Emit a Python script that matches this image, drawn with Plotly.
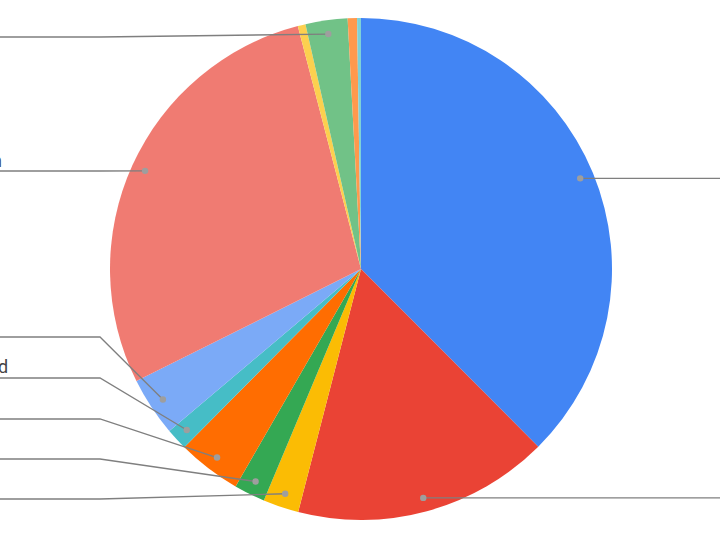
import math
import plotly.graph_objects as go

# ---- data (percentages of the whole) ----
categories = ["Slice 1", "Slice 2", "Slice 3", "Slice 4", "Slice 5", "Slice 6",
              "Slice 7", "Slice 8", "Slice 9", "Slice 10", "Slice 11", "Slice 12"]
values = [37.5, 16.5, 2.3, 2.0, 4.1, 1.4, 3.8, 28.3, 0.5, 2.7, 0.6, 0.25]
colors = ["#4285F4", "#EA4335", "#FBBC04", "#34A853", "#FF6D01", "#46BDC6",
          "#7BAAF7", "#F07B72", "#FCD04F", "#71C287", "#FF994D", "#7ED1D7"]

# ---- layout (pixels) ----
W, H = 720, 535
cx, cy, R = 361, 269, 251
dot_r = 0.945 * R
bend_x = 100
# index -> (side, label line y or None)
leaders = {0: ("right", None), 1: ("right", None),
           2: ("left", 499), 3: ("left", 459), 4: ("left", 419),
           5: ("left", 378), 6: ("left", 337), 7: ("left", 171), 9: ("left", 37)}
label_frags = [("n", 4, 160), ("d", 10, 366)]

fig = go.Figure()
fig.add_trace(go.Pie(
    labels=categories, values=values, sort=False, direction="clockwise",
    rotation=0, marker=dict(colors=colors, line=dict(width=0)),
    textinfo="none", hoverinfo="label+percent", showlegend=False,
    domain=dict(x=[(cx - R) / W, (cx + R) / W],
                y=[(H - cy - R) / H, (H - cy + R) / H]),
))
# invisible trace so the overlay axes exist
fig.add_trace(go.Scatter(x=[0], y=[0], mode="markers", marker=dict(opacity=0),
                         hoverinfo="skip", showlegend=False))

total = sum(values)
cum = 0.0
mids = []
for v in values:
    mids.append((cum + v / 2) / total * 2 * math.pi)
    cum += v

for i, (side, ly) in leaders.items():
    a = mids[i]
    dx = cx + dot_r * math.sin(a)
    dy = cy - dot_r * math.cos(a)
    if side == "right":
        path = f"M{dx},{dy} L{W + 5},{dy}"
    else:
        path = f"M{dx},{dy} L{bend_x},{ly} L-5,{ly}"
    fig.add_shape(type="path", path=path, xref="x", yref="y", layer="above",
                  line=dict(color="#7f7f7f", width=1.3))
    fig.add_shape(type="circle", xref="x", yref="y", layer="above",
                  x0=dx - 3.2, x1=dx + 3.2, y0=dy - 3.2, y1=dy + 3.2,
                  fillcolor="#9e9e9e", line=dict(width=0))

for txt, xr, yc in label_frags:
    fig.add_annotation(x=xr, y=yc, xref="x", yref="y", text=txt, showarrow=False,
                       xanchor="right", yanchor="middle",
                       font=dict(family="Roboto, Arial, sans-serif", size=18, color="#444444"))

fig.update_layout(
    width=W, height=H, margin=dict(l=0, r=0, t=0, b=0),
    paper_bgcolor="white", plot_bgcolor="rgba(0,0,0,0)",
    xaxis=dict(range=[0, W], visible=False, fixedrange=True),
    yaxis=dict(range=[H, 0], visible=False, fixedrange=True),
)

fig.write_html("out.html", config={"displayModeBar": False},
               post_script="document.body.style.margin='0';")
